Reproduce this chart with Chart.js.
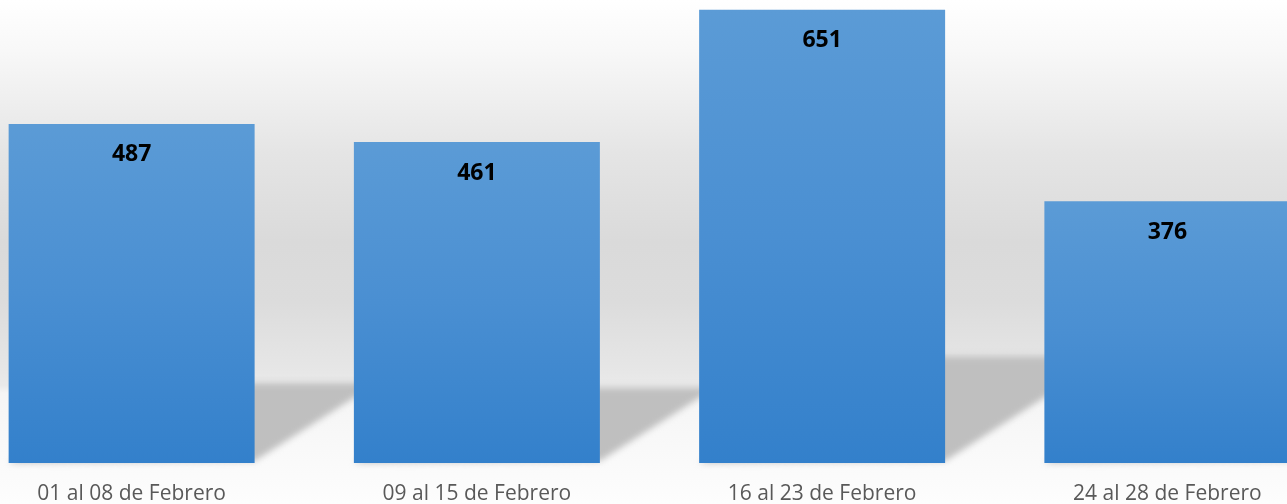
<!DOCTYPE html>
<html lang="es">
<head>
<meta charset="utf-8">
<title>Febrero</title>
<script src="https://cdn.jsdelivr.net/npm/chart.js@4.4.1/dist/chart.umd.min.js"></script>
<style>
    html, body { margin: 0; padding: 0; background: #ffffff; overflow: hidden; }
    #wrap { position: relative; width: 1287px; height: 504px; overflow: hidden; }
    /* el grafico original esta recortado a izquierda y derecha */
    #chart { position: absolute; left: -41px; top: 0; }
</style>
</head>
<body>
<div id="wrap">
    <canvas id="chart" width="1381" height="504"></canvas>
</div>
<script>
// datos
const categorias = ["01 al 08 de Febrero", "09 al 15 de Febrero", "16 al 23 de Febrero", "24 al 28 de Febrero"];
const valores = [487, 461, 651, 376];
const yMax = 665;

// fondo: pared gris degradada y piso claro
const fondoPlugin = {
    id: 'fondo',
    beforeDraw(chart) {
        const ctx = chart.ctx;
        const h = chart.height;
        const g = ctx.createLinearGradient(0, 0, 0, h);
        g.addColorStop(0.00, '#ffffff');
        g.addColorStop(0.10, '#f8f8f8');
        g.addColorStop(0.30, '#e5e5e5');
        g.addColorStop(0.48, '#dadada');
        g.addColorStop(0.60, '#dcdcdc');
        g.addColorStop(0.74, '#e7e7e7');
        g.addColorStop(0.765, '#eaeaea');
        g.addColorStop(0.78, '#f5f5f5');
        g.addColorStop(1.00, '#fdfdfd');
        ctx.save();
        ctx.fillStyle = g;
        ctx.fillRect(0, 0, chart.width, h);
        ctx.restore();
    }
};

// sombras de las barras sobre el piso (se calculan desde cada barra)
const sombraPlugin = {
    id: 'sombra',
    beforeDatasetsDraw(chart) {
        const ctx = chart.ctx;
        const meta = chart.getDatasetMeta(0);
        ctx.save();
        ctx.filter = 'blur(3px)';
        ctx.fillStyle = '#bfbfbf';
        meta.data.forEach(bar => {
            const alto = bar.base - bar.y;
            const dy = alto * 0.235;
            const dx = alto * 0.36;
            const l = bar.x - bar.width / 2;
            const r = bar.x + bar.width / 2;
            ctx.beginPath();
            ctx.moveTo(l, bar.base);
            ctx.lineTo(r, bar.base - 2);
            ctx.lineTo(r + dx, bar.base - dy);
            ctx.lineTo(l + dx, bar.base - dy);
            ctx.closePath();
            ctx.fill();
        });
        ctx.restore();
    }
};

// etiquetas de valor dentro de la barra
const etiquetasPlugin = {
    id: 'etiquetas',
    afterDatasetsDraw(chart) {
        const ctx = chart.ctx;
        const meta = chart.getDatasetMeta(0);
        ctx.save();
        ctx.font = 'bold 23px "Open Sans"';
        ctx.fillStyle = '#000000';
        ctx.textAlign = 'center';
        ctx.textBaseline = 'middle';
        meta.data.forEach((bar, i) => {
            ctx.fillText(String(valores[i]), bar.x, bar.y + 31);
        });
        ctx.restore();
    }
};

function degradadoBarra(c) {
    const chart = c.chart;
    if (!chart.chartArea) return '#4a8fd1';
    const y = chart.scales.y;
    const top = y.getPixelForValue(valores[c.dataIndex]);
    const base = y.getPixelForValue(0);
    const g = chart.ctx.createLinearGradient(0, top, 0, base);
    g.addColorStop(0, '#5b9bd6');
    g.addColorStop(0.5, '#4a8fd2');
    g.addColorStop(1, '#3380cb');
    return g;
}

const ctx = document.getElementById("chart").getContext("2d");
new Chart(ctx, {
    type: 'bar',
    data: {
        labels: categorias,
        datasets: [{
            data: valores,
            backgroundColor: degradadoBarra,
            borderWidth: 0,
            categoryPercentage: 1.0,
            barPercentage: 0.7125
        }]
    },
    options: {
        responsive: false,
        animation: false,
        devicePixelRatio: 1,
        layout: { padding: 0 },
        plugins: {
            legend: { display: false },
            tooltip: { enabled: false }
        },
        scales: {
            x: {
                grid: { display: false, drawTicks: false },
                border: { display: false },
                // alto fijo del eje para que la base quede en y=463
                afterFit: scale => { scale.height = 41; },
                ticks: {
                    color: '#595959',
                    padding: 18.5,
                    font: { family: '"Open Sans"', size: 21 }
                }
            },
            y: {
                display: false,
                min: 0,
                max: yMax
            }
        }
    },
    plugins: [fondoPlugin, sombraPlugin, etiquetasPlugin]
});
</script>
</body>
</html>
